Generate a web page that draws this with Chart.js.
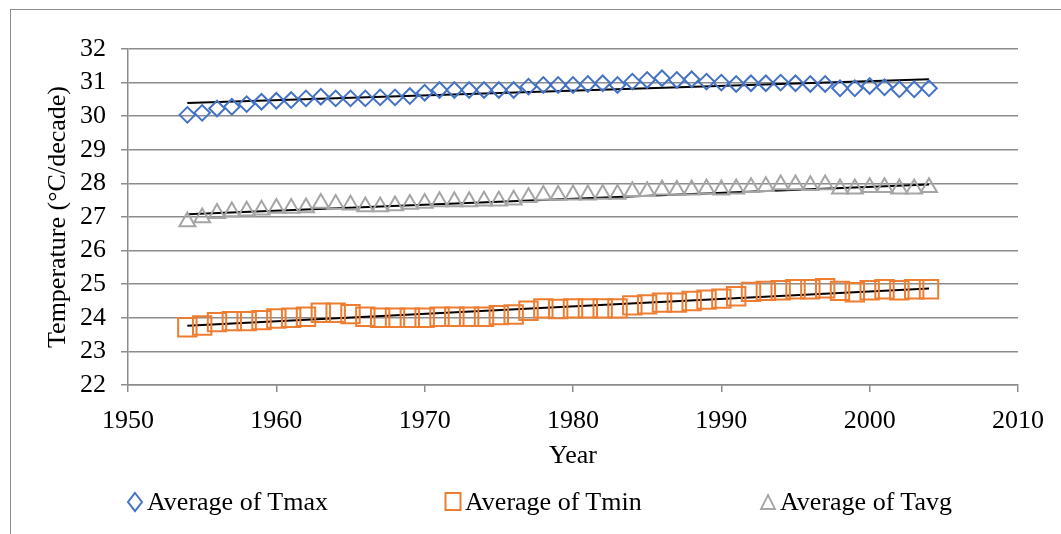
<!DOCTYPE html>
<html>
<head>
<meta charset="utf-8">
<script src="https://cdn.jsdelivr.net/npm/chart.js@4/dist/chart.umd.min.js"></script>
<style>
  html, body { margin: 0; padding: 0; background: #fff; overflow: hidden; }
  #wrap { position: relative; width: 1061px; height: 534px; }
  #frame { position: absolute; left: 10px; top: 9px; width: 1100px; height: 600px; border: 1.5px solid #8c8c8c; box-sizing: border-box; }
  canvas { position: absolute; left: 0; top: 0; }
  #legend { position: absolute; top: 487px; left: 0; width: 1061px; font: 26px "Liberation Serif", "Times New Roman", serif; color: #000; }
  .item { position: absolute; top: 0; display: flex; align-items: center; height: 30px; white-space: nowrap; }
  .item svg { margin-right: 3px; }
</style>
</head>
<body>
<div id="wrap">
  <div id="frame"></div>
  <canvas id="c" width="1061" height="534"></canvas>
  <div id="legend"></div>
</div>
<script>
"use strict";

const years = [];
for (let y = 1954; y <= 2004; y++) years.push(y);

// values (one per year 1954..2004)
const tmax = [30.04, 30.10, 30.23, 30.28, 30.36, 30.43, 30.46, 30.48, 30.53, 30.58,
              30.53, 30.53, 30.53, 30.56, 30.56, 30.60, 30.70, 30.78, 30.78, 30.78,
              30.78, 30.78, 30.78, 30.88, 30.93, 30.93, 30.93, 30.96, 30.98, 30.93,
              31.03, 31.08, 31.13, 31.08, 31.10, 31.03, 31.00, 30.96, 30.98, 30.98,
              31.00, 30.98, 30.96, 30.96, 30.83, 30.83, 30.90, 30.86, 30.80, 30.80,
              30.83];
const tmin = [23.72, 23.77, 23.87, 23.90, 23.90, 23.93, 23.98, 24.00, 24.03, 24.15,
              24.15, 24.11, 24.03, 24.00, 24.00, 24.00, 24.00, 24.03, 24.03, 24.03,
              24.03, 24.08, 24.10, 24.21, 24.28, 24.26, 24.28, 24.28, 24.28, 24.28,
              24.37, 24.40, 24.45, 24.45, 24.50, 24.54, 24.57, 24.64, 24.77, 24.80,
              24.82, 24.85, 24.85, 24.88, 24.80, 24.76, 24.82, 24.85, 24.82, 24.85,
              24.85];
const tavg = [26.86, 26.98, 27.11, 27.16, 27.18, 27.21, 27.26, 27.26, 27.28, 27.41,
              27.38, 27.36, 27.31, 27.31, 27.34, 27.38, 27.41, 27.46, 27.46, 27.46,
              27.48, 27.48, 27.51, 27.58, 27.65, 27.65, 27.66, 27.66, 27.68, 27.68,
              27.76, 27.76, 27.81, 27.80, 27.81, 27.84, 27.81, 27.84, 27.88, 27.91,
              27.96, 27.96, 27.94, 27.96, 27.84, 27.84, 27.88, 27.88, 27.84, 27.84,
              27.88];

// linear trend lines: value at first and last year
const trendYears = [1954, 2004];
const tmaxTrend = [30.39, 31.10];
const tminTrend = [23.76, 24.87];
const tavgTrend = [27.08, 27.97];

const yTicks = [22, 32, 1];
const xTicks = [1950, 2010, 10];

const BLUE = "#4472c4", ORANGE = "#ed7d31", GREY = "#a5a5a5", GRID = "#8c8c8c";
const FONT = "'Liberation Serif', 'Times New Roman', serif";

const pts = (arr) => arr.map((v, i) => ({ x: years[i], y: v }));
const trend = (arr) => arr.map((v, i) => ({ x: trendYears[i], y: v }));

function markerSet(label, data, color, style, radius) {
  return {
    label, data, showLine: false,
    pointStyle: style, pointRadius: radius, pointHoverRadius: radius,
    borderColor: color, backgroundColor: "rgba(0,0,0,0)", pointBorderWidth: 2,
  };
}
function trendSet(data) {
  return {
    label: "", data, showLine: true, pointRadius: 0,
    borderColor: "#000", borderWidth: 2, fill: false,
  };
}

new Chart(document.getElementById("c"), {
  type: "scatter",
  data: {
    datasets: [
      markerSet("Average of Tmax", pts(tmax), BLUE, "rectRot", 7.8),
      markerSet("Average of Tmin", pts(tmin), ORANGE, "rect", 13),
      markerSet("Average of Tavg", pts(tavg), GREY, "triangle", 9.2),
      trendSet(trend(tmaxTrend)),
      trendSet(trend(tminTrend)),
      trendSet(trend(tavgTrend)),
    ],
  },
  options: {
    responsive: false, animation: false, devicePixelRatio: 1,
    layout: { padding: { left: 43, top: 49, right: 43, bottom: 62 } },
    plugins: { legend: { display: false }, tooltip: { enabled: false } },
    scales: {
      x: {
        type: "linear", min: xTicks[0], max: xTicks[1],
        afterFit: (s) => { s.height = 87; },
        ticks: { stepSize: xTicks[2], color: "#000", padding: 14, maxRotation: 0, autoSkip: false,
                 font: { family: FONT, size: 26 }, callback: (v) => String(v) },
        grid: { drawOnChartArea: false, drawTicks: true, tickLength: 7, color: GRID, lineWidth: 1.5 },
        border: { color: GRID, width: 1.5 },
        title: { display: true, text: "Year", color: "#000", padding: 0, font: { family: FONT, size: 26 } },
      },
      y: {
        min: yTicks[0], max: yTicks[1],
        afterFit: (s) => { s.width = 85; },
        ticks: { stepSize: yTicks[2], color: "#000", padding: 15, autoSkip: false, font: { family: FONT, size: 26 } },
        grid: { color: GRID, lineWidth: 1.5, drawTicks: true, tickLength: 7 },
        border: { color: GRID, width: 1.5 },
        title: { display: true, text: "Temperature (°C/decade)", color: "#000", padding: 0, font: { family: FONT, size: 26 } },
      },
    },
  },
});

// ---- legend ----
const legendItems = [
  { text: "Average of Tmax", left: 126, svg: `<svg width="18" height="22"><path d="M9 2 L16 11 L9 20 L2 11 Z" fill="none" stroke="${BLUE}" stroke-width="2"/></svg>` },
  { text: "Average of Tmin", left: 444, svg: `<svg width="18" height="22"><rect x="1.5" y="2" width="15" height="17" fill="none" stroke="${ORANGE}" stroke-width="2"/></svg>` },
  { text: "Average of Tavg", left: 759, svg: `<svg width="18" height="22"><path d="M9 4 L16 18 L2 18 Z" fill="none" stroke="${GREY}" stroke-width="1.8"/></svg>` },
];
document.getElementById("legend").innerHTML = legendItems.map((it) =>
  `<div class="item" style="left:${it.left}px">${it.svg}<span>${it.text}</span></div>`).join("");
</script>
</body>
</html>
